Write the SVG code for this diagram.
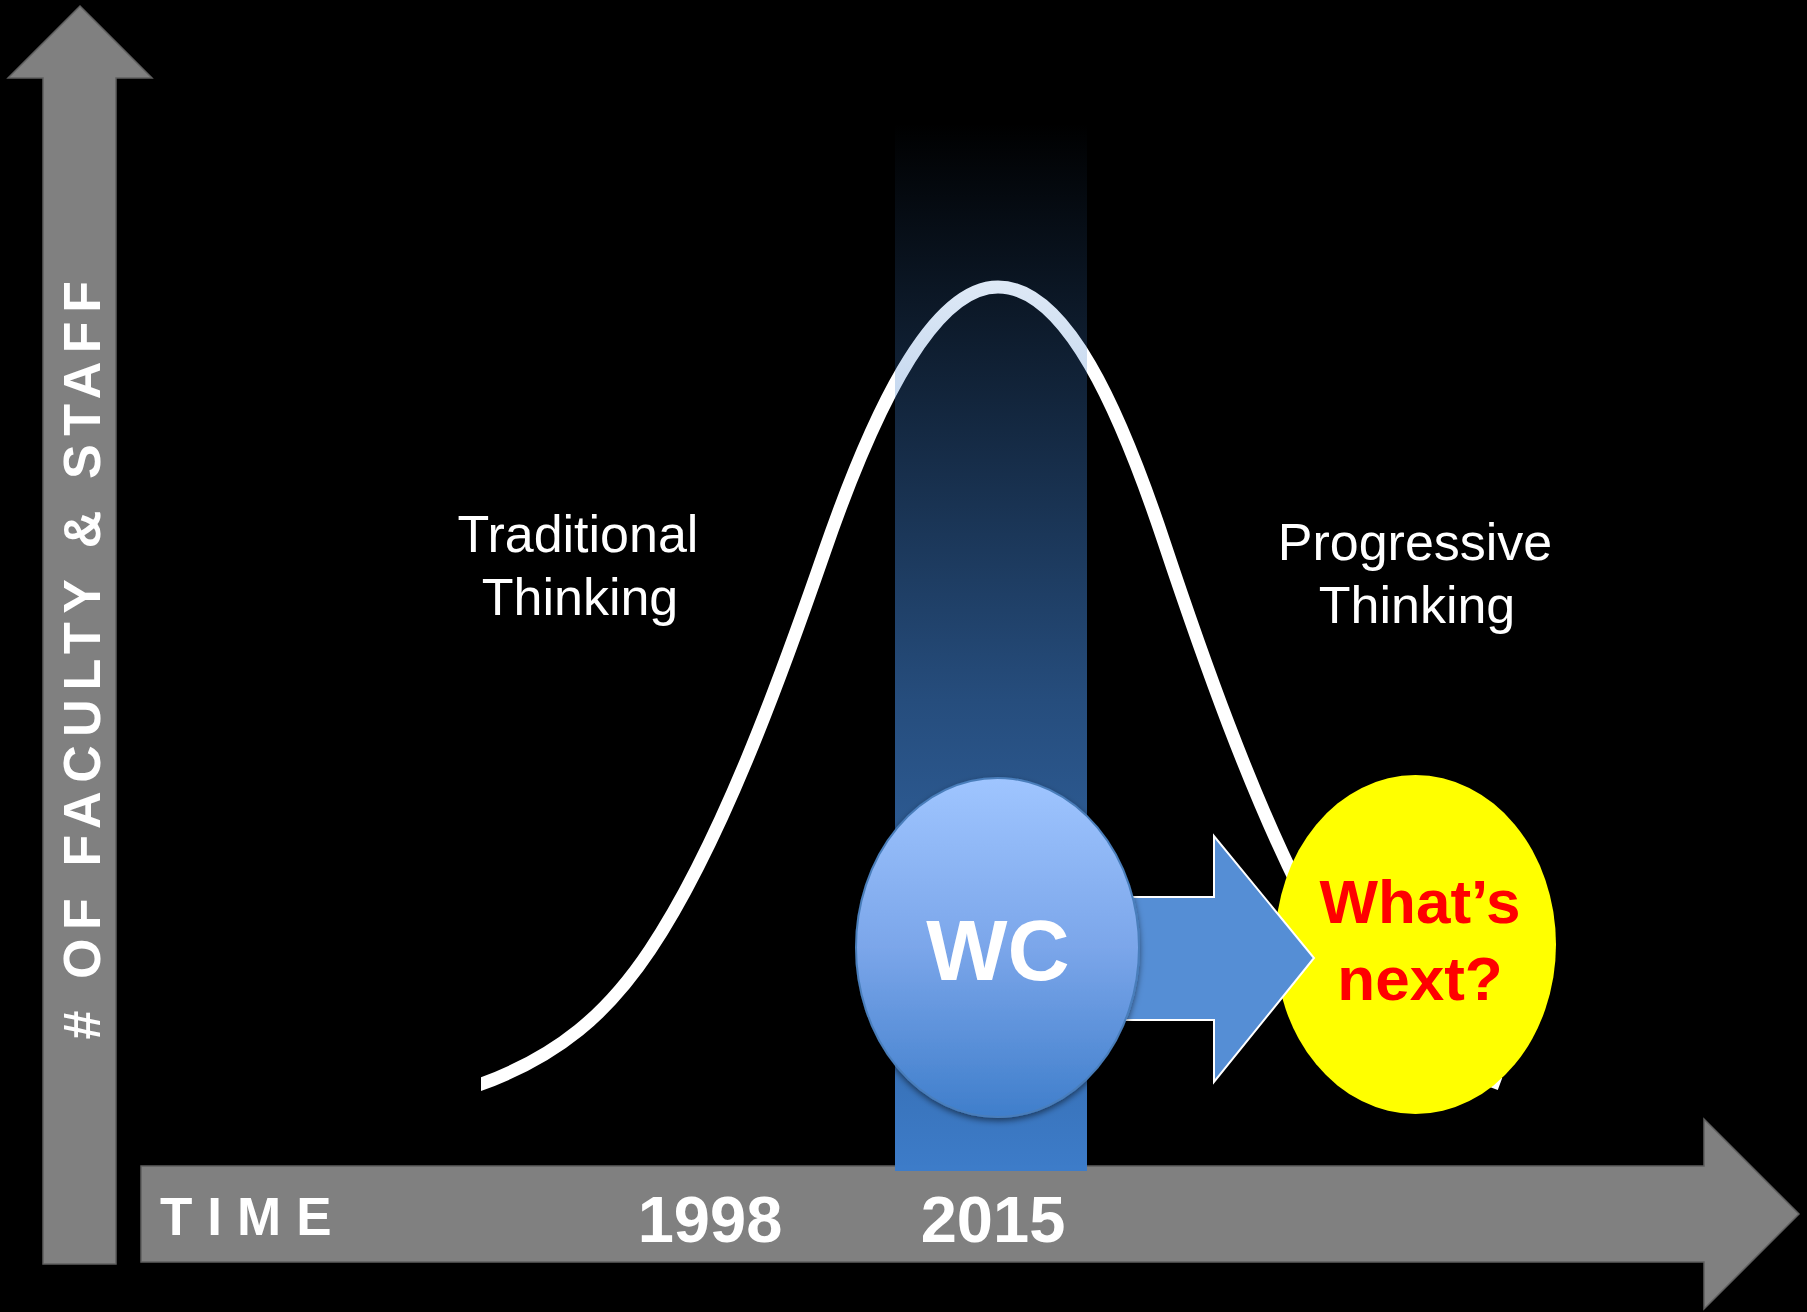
<svg xmlns="http://www.w3.org/2000/svg" width="1807" height="1312" viewBox="0 0 1807 1312">
<defs>
<linearGradient id="bandGrad" x1="0" y1="0" x2="0" y2="1">
<stop offset="0" stop-color="#3d7cc9" stop-opacity="0"/>
<stop offset="0.55" stop-color="#3d7cc9" stop-opacity="0.62"/>
<stop offset="1" stop-color="#3d7cc9" stop-opacity="1"/>
</linearGradient>
<linearGradient id="wcGrad" x1="0" y1="0" x2="0" y2="1">
<stop offset="0" stop-color="#9fc5ff"/>
<stop offset="0.5" stop-color="#7ba6ea"/>
<stop offset="1" stop-color="#3f7ecb"/>
</linearGradient>
<clipPath id="curveClip"><rect x="481" y="0" width="1326" height="1312"/></clipPath>
<filter id="shadow" x="-20%" y="-20%" width="140%" height="140%">
<feDropShadow dx="0" dy="3" stdDeviation="3" flood-color="#000" flood-opacity="0.5"/>
</filter>
</defs>
<style>
.axis{fill:#808080;stroke:#5f5f5f;stroke-width:1.5}
.axislbl{font-family:"Liberation Sans",Arial,sans-serif;font-weight:bold;fill:#fff}
.lbl{font-family:"Liberation Sans",Arial,sans-serif;fill:#fff;font-size:52px;text-anchor:middle}
.red{font-family:"Liberation Sans",Arial,sans-serif;font-weight:bold;fill:#ff0000;font-size:62px;text-anchor:middle}
</style>
<rect x="0" y="0" width="1807" height="1312" fill="#000"/>
<g id="y-axis">
<polygon class="axis" points="80,6 152,78 116,78 116,1264 43,1264 43,78 8,78"/>
<text class="axislbl" font-size="52" letter-spacing="8.6" text-anchor="middle" transform="translate(100,656) rotate(-90)">#  OF FACULTY &amp; STAFF</text>
</g>
<g id="x-axis">
<polygon class="axis" points="141,1166 1704,1166 1704,1119 1799,1214 1704,1309 1704,1262 141,1262"/>
<text class="axislbl" font-size="53" letter-spacing="15" x="160" y="1235">TIME</text>
<text class="axislbl" font-size="65" text-anchor="middle" x="710" y="1242">1998</text>
<text class="axislbl" font-size="65" text-anchor="middle" x="993" y="1242">2015</text>
</g>
<g id="connectors">
<path id="bell-curve" clip-path="url(#curveClip)" fill="none" stroke="#fff" stroke-width="13" d="M470,1088 C560,1058 610,1010 650,950 C720,845 780,680 824,553 C870,420 930,287 998,287 C1066,287 1120,410 1164,542 C1205,665 1250,790 1300,890 C1360,1010 1420,1055 1500,1084"/>
</g>
<g id="band">
<rect x="895" y="123" width="192" height="1048" fill="url(#bandGrad)"/>
</g>
<g id="labels">
<text class="lbl" x="578" y="552">Traditional</text>
<text class="lbl" x="580" y="615">Thinking</text>
<text class="lbl" x="1415" y="560">Progressive</text>
<text class="lbl" x="1417" y="623">Thinking</text>
</g>
<g id="whats-next">
<ellipse cx="1415.5" cy="944.5" rx="140.5" ry="169.5" fill="#ffff00"/>
<text class="red" x="1420" y="923">What’s</text>
<text class="red" x="1420" y="1000">next?</text>
</g>
<g id="arrow">
<polygon points="1080,897 1214,897 1214,836 1314,958 1214,1082 1214,1020 1080,1020" fill="#558ed5" stroke="#fff" stroke-width="2"/>
</g>
<g id="wc">
<ellipse cx="997.5" cy="947.5" rx="141.5" ry="169.5" fill="url(#wcGrad)" stroke="#4a7ebb" stroke-width="2" filter="url(#shadow)"/>
<text class="axislbl" font-size="86" text-anchor="middle" x="998" y="980">WC</text>
</g>
</svg>
